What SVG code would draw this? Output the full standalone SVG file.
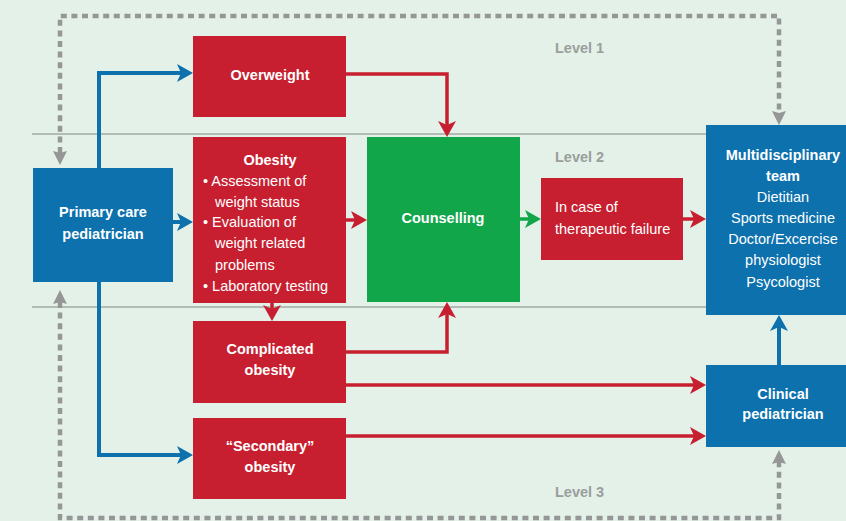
<svg xmlns="http://www.w3.org/2000/svg" width="846" height="521" viewBox="0 0 846 521">
<style>
.t{font-family:"Liberation Sans",Arial,sans-serif;font-size:14.5px;fill:#fff}
.b{font-weight:bold}
.c{text-anchor:middle}
.lvl{font-family:"Liberation Sans",Arial,sans-serif;font-size:14.5px;fill:#9a9e9c;font-weight:bold}
.red{fill:#c71f2f}
.blue{fill:#0c71ad}
.green{fill:#12a64b}
.rl{fill:none;stroke:#c71f2f;stroke-width:3.5}
.bl{fill:none;stroke:#0c71ad;stroke-width:4}
.gl{fill:none;stroke:#12a64b;stroke-width:3.5}
.dl{fill:none;stroke:#949795;stroke-width:4.5;stroke-dasharray:6 4.6}
.sep{stroke:#a3a8a5;stroke-width:1.5}
</style>
<defs>
<marker id="ab" markerUnits="userSpaceOnUse" viewBox="0 0 16 18" markerWidth="16" markerHeight="18" refX="4" refY="9" orient="auto"><path d="M0,0 L16,9 L0,18 L4,9 z" fill="#0c71ad"/></marker>
<marker id="ar" markerUnits="userSpaceOnUse" viewBox="0 0 16 18" markerWidth="16" markerHeight="18" refX="4" refY="9" orient="auto"><path d="M0,0 L16,9 L0,18 L4,9 z" fill="#c71f2f"/></marker>
<marker id="ag" markerUnits="userSpaceOnUse" viewBox="0 0 16 18" markerWidth="16" markerHeight="18" refX="4" refY="9" orient="auto"><path d="M0,0 L16,9 L0,18 L4,9 z" fill="#12a64b"/></marker>
<marker id="ay" markerUnits="userSpaceOnUse" viewBox="0 0 14 14" markerWidth="14" markerHeight="14" refX="2" refY="7" orient="auto-start-reverse"><path d="M0,0 L14,7 L0,14 L2,7 z" fill="#949795"/></marker>
</defs>
<rect width="846" height="521" fill="#e4f1e9"/>
<g id="separators">
<line class="sep" x1="32" y1="134" x2="706" y2="134"/>
<line class="sep" x1="32" y1="307" x2="706" y2="307"/>
</g>
<g id="levels">
<text class="lvl" x="555" y="53">Level 1</text>
<text class="lvl" x="555" y="162">Level 2</text>
<text class="lvl" x="555" y="497">Level 3</text>
</g>
<g id="connectors">
<path class="dl" d="M60,153 L60,16 L779,16 L779,113" marker-start="url(#ay)" marker-end="url(#ay)"/>
<path class="dl" d="M60,302 L60,518 L779,518 L779,462" marker-start="url(#ay)" marker-end="url(#ay)"/>
<path class="bl" d="M99,168 L99,73 L181,73" marker-end="url(#ab)"/>
<path class="bl" d="M173,222 L181,222" marker-end="url(#ab)"/>
<path class="bl" d="M99,282 L99,455 L181,455" marker-end="url(#ab)"/>
<path class="bl" d="M779,365 L779,327" marker-end="url(#ab)"/>
<path class="rl" d="M346,74 L447,74 L447,125" marker-end="url(#ar)"/>
<path class="rl" d="M346,220 L355,220" marker-end="url(#ar)"/>
<path class="rl" d="M272,303 L272,309" marker-end="url(#ar)"/>
<path class="rl" d="M346,352 L447,352 L447,314" marker-end="url(#ar)"/>
<path class="rl" d="M346,385 L694,385" marker-end="url(#ar)"/>
<path class="rl" d="M346,436 L694,436" marker-end="url(#ar)"/>
<path class="gl" d="M520,219 L529,219" marker-end="url(#ag)"/>
<path class="rl" d="M683,219 L694,219" marker-end="url(#ar)"/>
</g>
<g id="primary">
<rect class="blue" x="33" y="168" width="140" height="114"/>
<text class="t b c" x="103" y="217">Primary care</text>
<text class="t b c" x="103" y="239">pediatrician</text>
</g>
<g id="overweight">
<rect class="red" x="193" y="36" width="153" height="81"/>
<text class="t b c" x="270" y="80">Overweight</text>
</g>
<g id="obesity">
<rect class="red" x="193" y="137" width="153" height="166"/>
<text class="t b c" x="270" y="165">Obesity</text>
<text class="t" x="203" y="186">• Assessment of</text>
<text class="t" x="215" y="207">weight status</text>
<text class="t" x="203" y="227">• Evaluation of</text>
<text class="t" x="215" y="248">weight related</text>
<text class="t" x="215" y="270">problems</text>
<text class="t" x="203" y="291">• Laboratory testing</text>
</g>
<g id="counselling">
<rect class="green" x="367" y="137" width="153" height="165"/>
<text class="t b c" x="443" y="223">Counselling</text>
</g>
<g id="failure">
<rect class="red" x="541" y="178" width="142" height="82"/>
<text class="t" x="555" y="212">In case of</text>
<text class="t" x="555" y="234">therapeutic failure</text>
</g>
<g id="multidisciplinary">
<rect class="blue" x="706" y="125" width="154" height="190"/>
<text class="t b c" x="783" y="160">Multidisciplinary</text>
<text class="t b c" x="783" y="181">team</text>
<text class="t c" x="783" y="202">Dietitian</text>
<text class="t c" x="783" y="223">Sports medicine</text>
<text class="t c" x="783" y="244">Doctor/Excercise</text>
<text class="t c" x="783" y="265">physiologist</text>
<text class="t c" x="783" y="287">Psycologist</text>
</g>
<g id="complicated">
<rect class="red" x="193" y="321" width="153" height="82"/>
<text class="t b c" x="270" y="354">Complicated</text>
<text class="t b c" x="270" y="375">obesity</text>
</g>
<g id="secondary">
<rect class="red" x="193" y="418" width="153" height="81"/>
<text class="t b c" x="270" y="451">“Secondary”</text>
<text class="t b c" x="270" y="472">obesity</text>
</g>
<g id="clinical">
<rect class="blue" x="706" y="365" width="154" height="82"/>
<text class="t b c" x="783" y="399">Clinical</text>
<text class="t b c" x="783" y="419">pediatrician</text>
</g>
</svg>
